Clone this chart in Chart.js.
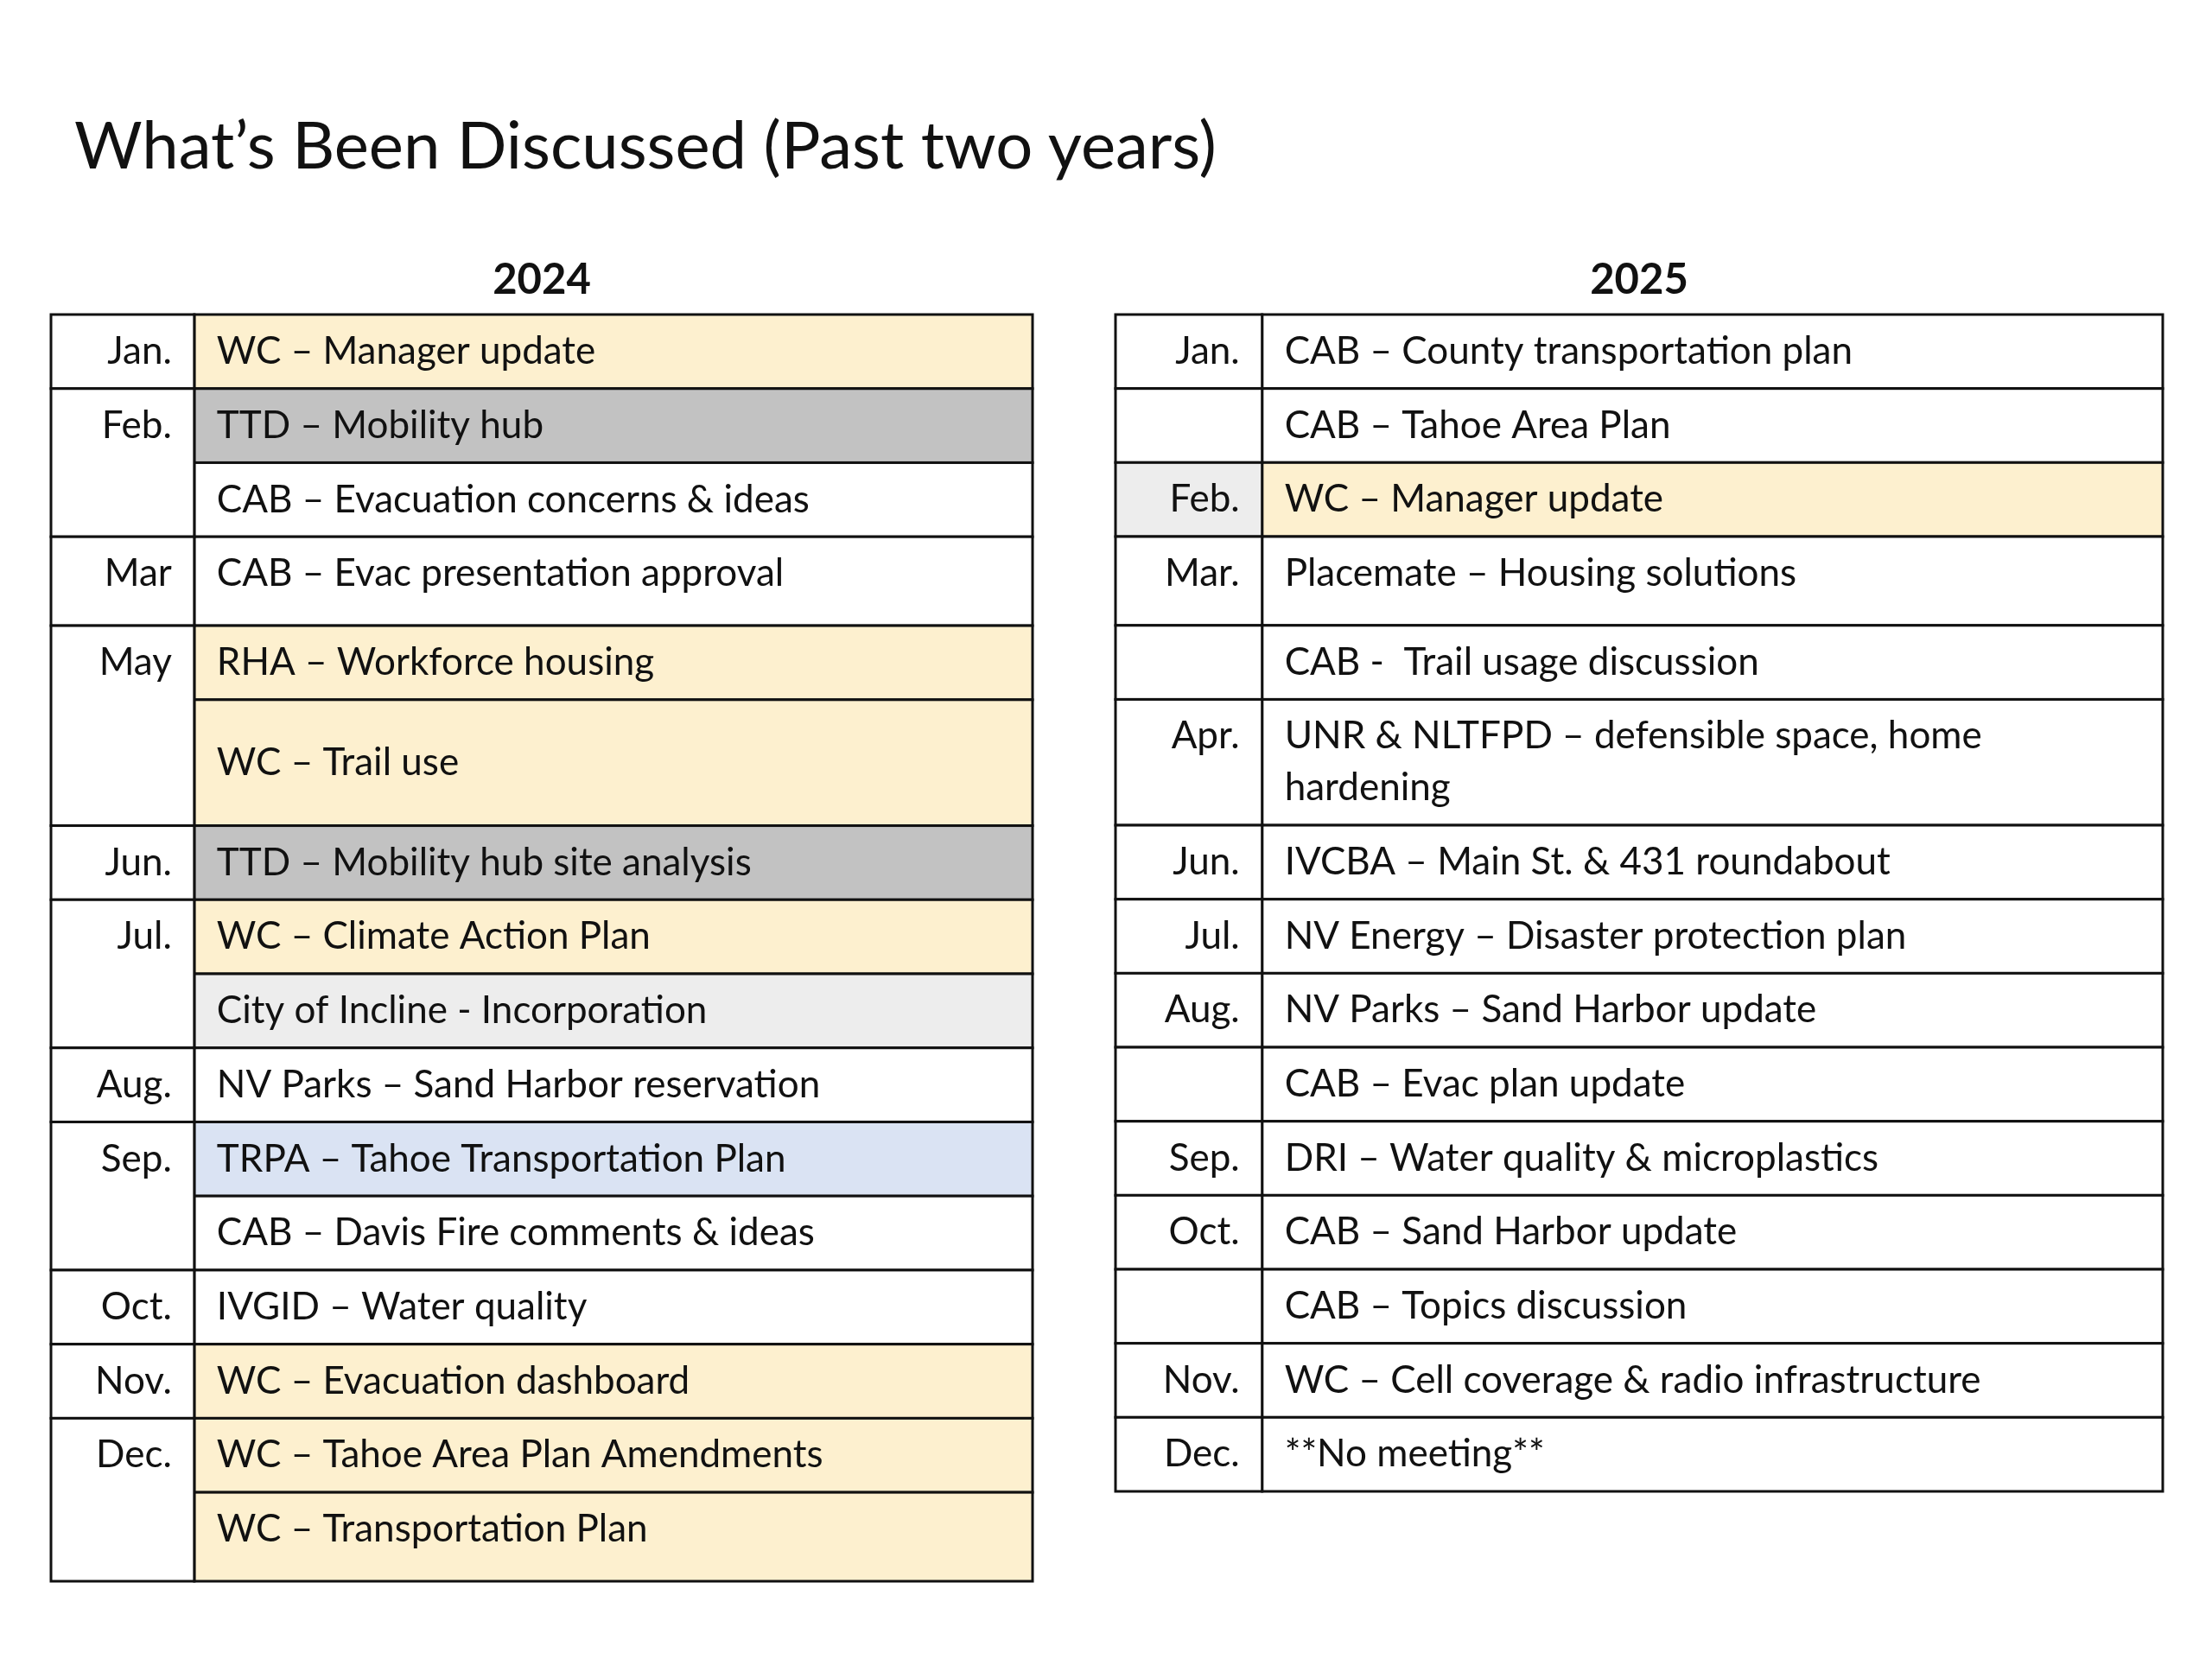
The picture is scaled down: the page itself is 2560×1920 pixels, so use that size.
<!DOCTYPE html>
<html><head><meta charset="utf-8">
<script src="https://cdn.jsdelivr.net/npm/chart.js@4/dist/chart.umd.min.js"></script>
<style>
body{margin:0;width:2560px;height:1920px;background:#fff;position:relative;font-family:Lato,"Open Sans",sans-serif;color:#111}
h1{position:absolute;left:86px;top:128px;margin:0;font-weight:400;font-size:76px;line-height:1}
.yr{position:absolute;top:292px;font-weight:700;font-size:49px;text-align:center}
canvas{position:absolute}
</style></head><body>
<h1>What’s Been Discussed (Past two years)</h1>
<div class="yr" style="left:59px;width:1136px">2024</div>
<div class="yr" style="left:1291px;width:1212px">2025</div>
<canvas id="t2024" width="1146" height="1476" style="left:54px;top:359px"></canvas>
<canvas id="t2025" width="1222" height="1372" style="left:1286px;top:359px"></canvas>
<script>
// 2024 rows
const months2024 = ['Jan.', 'Feb.', '', 'Mar', 'May', '', 'Jun.', 'Jul.', '', 'Aug.', 'Sep.', '', 'Oct.', 'Nov.', 'Dec.', ''];
const topics2024 = ['WC – Manager update', 'TTD – Mobility hub', 'CAB – Evacuation concerns & ideas', 'CAB – Evac presentation approval',
  'RHA – Workforce housing', 'WC – Trail use', 'TTD – Mobility hub site analysis', 'WC – Climate Action Plan',
  'City of Incline - Incorporation', 'NV Parks – Sand Harbor reservation', 'TRPA – Tahoe Transportation Plan',
  'CAB – Davis Fire comments & ideas', 'IVGID – Water quality', 'WC – Evacuation dashboard',
  'WC – Tahoe Area Plan Amendments', 'WC – Transportation Plan'];
const span2024 = [1, 1, 1, 1.2, 1, 1.7, 1, 1, 1, 1, 1, 1, 1, 1, 1, 1.2];
const fill2024 = ['y', 'g', '', '', 'y', 'y', 'g', 'y', 'l', '', 'b', '', '', 'y', 'y', 'y'];

// 2025 rows
const months2025 = ['Jan.', '', 'Feb.', 'Mar.', '', 'Apr.', 'Jun.', 'Jul.', 'Aug.', '', 'Sep.', 'Oct.', '', 'Nov.', 'Dec.'];
const topics2025 = ['CAB – County transportation plan', 'CAB – Tahoe Area Plan', 'WC – Manager update',
  'Placemate – Housing solutions', 'CAB -  Trail usage discussion', 'UNR & NLTFPD – defensible space, home\nhardening',
  'IVCBA – Main St. & 431 roundabout', 'NV Energy – Disaster protection plan', 'NV Parks – Sand Harbor update',
  'CAB – Evac plan update', 'DRI – Water quality & microplastics', 'CAB – Sand Harbor update',
  'CAB – Topics discussion', 'WC – Cell coverage & radio infrastructure', '**No meeting**'];
const span2025 = [1, 1, 1, 1.2, 1, 1.7, 1, 1, 1, 1, 1, 1, 1, 1, 1];
const fill2025 = ['', '', 'y', '', '', '', '', '', '', '', '', '', '', '', ''];

const colors = { y: '#fdf0cf', g: '#c2c2c2', l: '#ededed', b: '#dae3f3', '': '#ffffff' };

// a month spans rows until the next non-empty month label (2024 grouping)
function makeTable(id, months, topics, spans, fills, monthCol, groupMonths, monthFill) {
  const total = spans.reduce((a, b) => a + b, 0);
  const rows = [];
  let y = 0;
  spans.forEach((s, i) => { rows.push({ y0: y, y1: y + s }); y += s; });

  const cellPlugin = {
    id: 'cells',
    afterDatasetsDraw(chart) {
      const ctx = chart.ctx, sx = chart.scales.x, sy = chart.scales.y;
      const X = v => sx.getPixelForValue(v), Y = v => sy.getPixelForValue(v);
      const unit = Y(1) - Y(0);
      ctx.save();
      ctx.font = '44px Lato, "Open Sans", sans-serif';
      ctx.textBaseline = 'middle';
      ctx.lineWidth = 3;
      ctx.strokeStyle = '#111';
      // topic cells
      rows.forEach((r, i) => {
        const x0 = X(monthCol), x1 = X(1), y0 = Y(r.y0), y1 = Y(r.y1);
        ctx.fillStyle = colors[fills[i]];
        ctx.fillRect(x0, y0, x1 - x0, y1 - y0);
        ctx.strokeRect(x0, y0, x1 - x0, y1 - y0);
        const lines = topics[i].split('\n');
        let ty = y0 + unit * 0.5;
        if (lines.length === 1 && spans[i] > 1.5) ty = (y0 + y1) / 2;
        ctx.fillStyle = '#111';
        ctx.textAlign = 'left';
        lines.forEach((t, k) => ctx.fillText(t, x0 + 26, ty + k * 60));
      });
      // month cells
      rows.forEach((r, i) => {
        if (groupMonths && months[i] === '' ) return;
        let end = i;
        if (groupMonths) while (end + 1 < rows.length && months[end + 1] === '') end++;
        const x0 = X(0), x1 = X(monthCol), y0 = Y(r.y0), y1 = Y(rows[end].y1);
        ctx.fillStyle = (monthFill && monthFill[i]) ? colors[monthFill[i]] : '#fff';
        ctx.fillRect(x0, y0, x1 - x0, y1 - y0);
        ctx.strokeRect(x0, y0, x1 - x0, y1 - y0);
        ctx.fillStyle = '#111';
        ctx.textAlign = 'right';
        ctx.fillText(months[i], x1 - 26, y0 + unit * 0.5);
      });
      ctx.restore();
    }
  };

  return new Chart(document.getElementById(id), {
    type: 'scatter',
    data: { datasets: [{ data: [] }] },
    options: {
      responsive: false, animation: false, devicePixelRatio: 1,
      layout: { padding: 5 },
      plugins: { legend: { display: false }, tooltip: { enabled: false } },
      scales: {
        x: { type: 'linear', min: 0, max: 1, display: false },
        y: { type: 'linear', min: 0, max: total, reverse: true, display: false }
      }
    },
    plugins: [cellPlugin]
  });
}

makeTable('t2024', months2024, topics2024, span2024, fill2024, 0.146, true, null);
makeTable('t2025', months2025, topics2025, span2025, fill2025, 0.14, false, ['', '', 'l']);
</script>
</body></html>
